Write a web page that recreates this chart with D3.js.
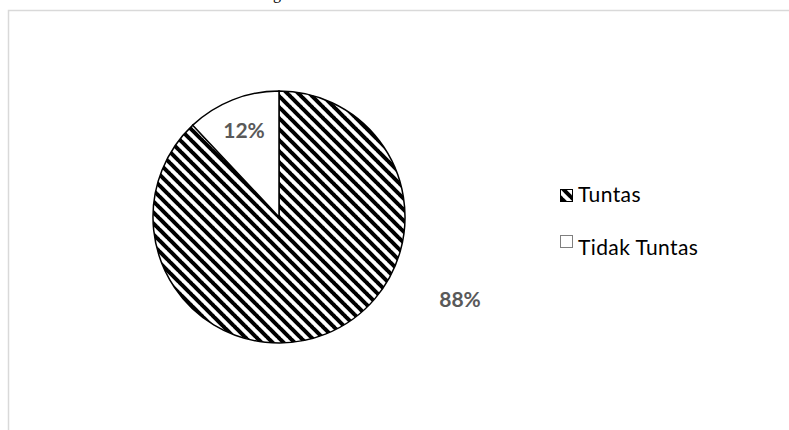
<!DOCTYPE html>
<html>
<head>
<meta charset="utf-8">
<script src="https://cdn.jsdelivr.net/npm/d3@7"></script>
<style>
  body { margin: 0; background: #fff; }
  svg { display: block; }
</style>
</head>
<body>
<svg id="chart" width="789" height="430"></svg>
<script>
// data
const categories = ['Tuntas', 'Tidak Tuntas']
const values = [88, 12]
const labels = ['88%', '12%']

const svg = d3.select('#chart')
const width = 789
const height = 430

// diagonal hatch like excel "wide downward diagonal"
const defs = svg.append('defs')
const pat = defs.append('pattern')
  .attr('id', 'hatch')
  .attr('patternUnits', 'userSpaceOnUse')
  .attr('width', 11)
  .attr('height', 11)
pat.append('rect').attr('width', 11).attr('height', 11).attr('fill', '#fff')
pat.selectAll('path')
  .data([[-11, 0], [0, 0], [11, 0]])
  .join('path')
  .attr('d', d => `M${d[0] - 1},${d[1] - 1} L${d[0] + 12},${d[1] + 12}`)
  .attr('stroke', '#000')
  .attr('stroke-width', 4)

// chart frame (bleeds off the right and bottom)
svg.append('rect')
  .attr('x', 8.5)
  .attr('y', 10.5)
  .attr('width', width + 20)
  .attr('height', height + 20)
  .attr('fill', 'none')
  .attr('stroke', '#d9d9d9')
  .attr('stroke-width', 1.5)

// bit of the document caption cut off above the chart
svg.append('text')
  .attr('x', 273)
  .attr('y', -1)
  .style('font-family', '"Liberation Serif", serif')
  .style('font-size', '16px')
  .text('g')

const cx = 279
const cy = 217
const r = 126

const pie = d3.pie().sort(null).value(d => d)
const arc = d3.arc().innerRadius(0).outerRadius(r)
const fills = ['url(#hatch)', '#fff']

const g = svg.append('g').attr('transform', `translate(${cx},${cy})`)
g.selectAll('path')
  .data(pie(values))
  .join('path')
  .attr('d', arc)
  .attr('fill', (d, i) => fills[i])
  .attr('stroke', '#000')
  .attr('stroke-width', 1.5)

// percentage labels
const labelPos = [[460, 307], [244, 138]]
svg.selectAll('text.pct')
  .data(labels)
  .join('text')
  .attr('class', 'pct')
  .attr('x', (d, i) => labelPos[i][0])
  .attr('y', (d, i) => labelPos[i][1])
  .attr('text-anchor', 'middle')
  .attr('fill', '#595959')
  .style('font-family', 'Lato, "Open Sans", sans-serif')
  .style('font-weight', 'bold')
  .style('font-size', '21px')
  .text(d => d)

// legend
const legendRows = [
  { box: [560, 189], text: [578, 202], fill: 'url(#hatch)', stroke: '#000' },
  { box: [560, 235], text: [578, 255], fill: '#fff', stroke: '#7f7f7f' }
]
const lg = svg.append('g')
legendRows.forEach((row, i) => {
  lg.append('rect')
    .attr('x', row.box[0] + 0.5)
    .attr('y', row.box[1] + 0.5)
    .attr('width', 12)
    .attr('height', 12)
    .attr('fill', row.fill)
    .attr('stroke', row.stroke)
    .attr('stroke-width', 1)
  lg.append('text')
    .attr('x', row.text[0])
    .attr('y', row.text[1])
    .attr('fill', '#000')
    .style('font-family', 'Lato, "Open Sans", sans-serif')
    .style('font-size', '21px')
    .style('letter-spacing', '0.4px')
    .text(categories[i])
})
</script>
</body>
</html>
